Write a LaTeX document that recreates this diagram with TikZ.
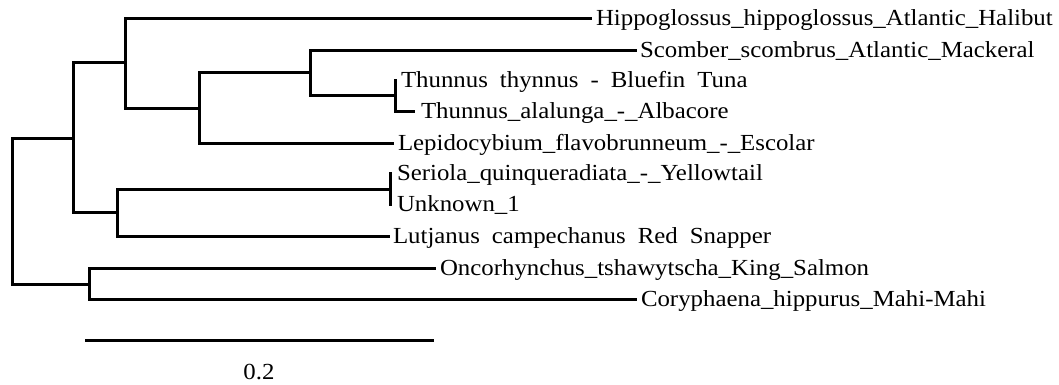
\documentclass[tikz,border=0pt]{standalone}
\usepackage{fontspec}
\setmainfont{Liberation Serif}[FakeStretch=1.08]
\begin{document}
\begin{tikzpicture}[x=1pt,y=-1pt,
  branch/.style={line width=3pt, line cap=rect, line join=miter},
  lab/.style={anchor=base west, inner sep=0pt, outer sep=0pt,
    font={\fontsize{23}{23}\selectfont\spaceskip=12pt\relax}},
  scalelab/.style={inner sep=0pt, font={\fontsize{23}{23}\selectfont}}]
\useasboundingbox (0,0) rectangle (1059,384);
% internal nodes
\coordinate (R) at (12,211);
\coordinate (A) at (73,138);
\coordinate (B) at (125,62);
\coordinate (C) at (199,108);
\coordinate (D) at (310,72);
\coordinate (E) at (395,95);
\coordinate (F) at (117,212);
\coordinate (G) at (390,189);
\coordinate (H) at (89,284);
% leaf tips
\coordinate (hippoT) at (590,18);
\coordinate (scomT) at (635,50);
\coordinate (thynT) at (395,80);
\coordinate (alalT) at (413,111);
\coordinate (lepiT) at (392,143);
\coordinate (serT) at (390,173);
\coordinate (unkT) at (390,204);
\coordinate (lutT) at (388,236);
\coordinate (oncT) at (434,268);
\coordinate (corT) at (635,299);
% branches
\draw[branch] (R) |- (A);
\draw[branch] (R) |- (H);
\draw[branch] (A) |- (B);
\draw[branch] (A) |- (F);
\draw[branch] (B) |- (hippoT);
\draw[branch] (B) |- (C);
\draw[branch] (C) |- (D);
\draw[branch] (C) |- (lepiT);
\draw[branch] (D) |- (scomT);
\draw[branch] (D) |- (E);
\draw[branch] (E) |- (thynT);
\draw[branch] (E) |- (alalT);
\draw[branch] (F) |- (G);
\draw[branch] (F) |- (lutT);
\draw[branch] (G) |- (serT);
\draw[branch] (G) |- (unkT);
\draw[branch] (H) |- (oncT);
\draw[branch] (H) |- (corT);
% labels
\node[lab] (hippo) at ([xshift=6pt,yshift=-7.6pt]hippoT) {Hippoglossus\_hippoglossus\_Atlantic\_Halibut};
\node[lab] (scom) at ([xshift=5pt,yshift=-7.6pt]scomT) {Scomber\_scombrus\_Atlantic\_Mackeral};
\node[lab] (thyn) at ([xshift=6pt,yshift=-7.6pt]thynT) {Thunnus thynnus - Bluefin Tuna};
\node[lab] (alal) at ([xshift=8pt,yshift=-7.6pt]alalT) {Thunnus\_alalunga\_-\_Albacore};
\node[lab] (lepi) at ([xshift=6pt,yshift=-7.6pt]lepiT) {Lepidocybium\_flavobrunneum\_-\_Escolar};
\node[lab] (ser) at ([xshift=7pt,yshift=-7.6pt]serT) {Seriola\_quinqueradiata\_-\_Yellowtail};
\node[lab] (unk) at ([xshift=7pt,yshift=-7.6pt]unkT) {Unknown\_1};
\node[lab] (lut) at ([xshift=5pt,yshift=-7.6pt]lutT) {Lutjanus campechanus Red Snapper};
\node[lab] (onc) at ([xshift=6pt,yshift=-7.6pt]oncT) {Oncorhynchus\_tshawytscha\_King\_Salmon};
\node[lab] (cor) at ([xshift=6pt,yshift=-7.6pt]corT) {Coryphaena\_hippurus\_Mahi-Mahi};
% scale bar
\coordinate (sbL) at (85,340);
\coordinate (sbR) at (434,340);
\draw[line width=3pt] (sbL) -- (sbR);
\node[scalelab] (sblab) at (259,372) {0.2};
\end{tikzpicture}
\end{document}
